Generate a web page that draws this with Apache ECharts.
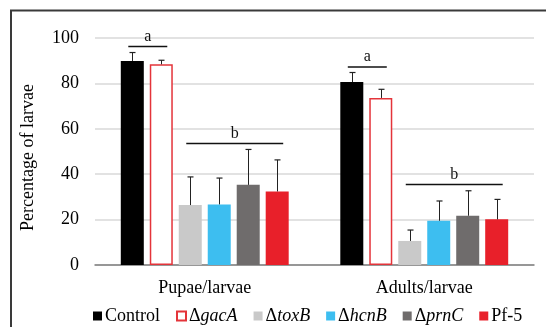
<!DOCTYPE html>
<html>
<head>
<meta charset="utf-8">
<script src="https://cdn.jsdelivr.net/npm/echarts@6/dist/echarts.min.js"></script>
<style>
  html, body { margin: 0; padding: 0; background: #fff; }
  #chart { width: 546px; height: 327px; }
</style>
</head>
<body>
<div id="chart"></div>
<script>
// Stage ratios (%) for each treatment, mean and standard error
const categories = ['Pupae/larvae', 'Adults/larvae'];
const seriesNames = ['Control', 'ΔgacA', 'ΔtoxB', 'ΔhcnB', 'ΔprnC', 'Pf-5'];

const controlMean = [89.9, 80.6];
const controlErr  = [3.7, 4.2];
const gacAMean    = [88.4, 73.6];
const gacAErr     = [1.8, 3.8];
const toxBMean    = [26.4, 10.6];
const toxBErr     = [12.4, 4.8];
const hcnBMean    = [26.7, 19.5];
const hcnBErr     = [11.6, 8.7];
const prnCMean    = [35.3, 21.7];
const prnCErr     = [15.6, 11.0];
const pf5Mean     = [32.4, 20.1];
const pf5Err      = [13.9, 8.8];

// Significance groups: letter, category, height of bracket, first and last bar covered
const sigLetters  = ['a', 'b', 'a', 'b'];
const sigCategory = [0, 0, 1, 1];
const sigLevel    = [96.3, 53.5, 87.2, 35.5];
const sigFirstBar = [0, 2, 0, 2];
const sigLastBar  = [1, 5, 1, 5];

const yTicks = [0, 20, 40, 60, 80, 100];

const means = [controlMean, gacAMean, toxBMean, hcnBMean, prnCMean, pf5Mean];
const errs  = [controlErr, gacAErr, toxBErr, hcnBErr, prnCErr, pf5Err];

const SERIF = '"Liberation Serif", "Times New Roman", serif';
const BAR_W = 23;
const BAR_GAP = 0.26;
const CAP = 3;

const barStyles = [
  { color: '#000000' },
  { color: '#ffffff', borderColor: '#e4343a', borderWidth: 1.5 },
  { color: '#c9c9c9' },
  { color: '#3dbef0' },
  { color: '#6f6c6c' },
  { color: '#e8202a' }
];

function barOffset(i) {
  return (i - (seriesNames.length - 1) / 2) * BAR_W * (1 + BAR_GAP);
}

const errData = [];
means.forEach((m, bi) => {
  m.forEach((v, ci) => errData.push([ci, v, errs[bi][ci], bi]));
});

const sigData = sigLevel.map((lv, k) => [sigCategory[k], lv, sigFirstBar[k], sigLastBar[k]]);

const barSeries = seriesNames.map((name, i) => ({
  name: name,
  type: 'bar',
  data: means[i],
  barWidth: BAR_W,
  barGap: (BAR_GAP * 100) + '%',
  itemStyle: barStyles[i],
  z: 2
}));

const chart = echarts.init(document.getElementById('chart'), null, { renderer: 'canvas' });

chart.setOption({
  backgroundColor: '#ffffff',
  animation: false,
  graphic: [{
    type: 'rect',
    silent: true,
    z: 0,
    shape: { x: 11, y: 10.5, width: 580, height: 360 },
    style: { fill: 'none', stroke: '#3a3a3a', lineWidth: 2 }
  }],
  grid: { left: 95, right: 12, top: 38, bottom: 62 },
  legend: {
    data: seriesNames,
    left: 88,
    top: 302,
    icon: 'rect',
    itemWidth: 9,
    itemHeight: 9,
    itemGap: 16,
    formatter: function (name) {
      if (name.charAt(0) === 'Δ') return '{u|Δ}{i|' + name.slice(1) + '}';
      return '{u|' + name + '}';
    },
    textStyle: {
      padding: [0, 0, 0, -2],
      rich: {
        u: { fontFamily: SERIF, fontSize: 18, color: '#000' },
        i: { fontFamily: SERIF, fontSize: 18, color: '#000', fontStyle: 'italic' }
      }
    }
  },
  xAxis: {
    type: 'category',
    data: categories,
    axisTick: { show: false },
    axisLine: { lineStyle: { color: '#7f7f7f', width: 1.5 } },
    axisLabel: { fontFamily: SERIF, fontSize: 18, color: '#000', margin: 14 }
  },
  yAxis: {
    type: 'value',
    min: yTicks[0],
    max: yTicks[yTicks.length - 1],
    interval: yTicks[1] - yTicks[0],
    name: 'Percentage of larvae',
    nameLocation: 'middle',
    nameGap: 58,
    nameRotate: 90,
    nameTextStyle: { fontFamily: SERIF, fontSize: 18, color: '#000', padding: [0, 12, 0, 0] },
    axisLine: { show: false },
    axisTick: { show: false },
    axisLabel: { fontFamily: SERIF, fontSize: 18, color: '#000', margin: 16 },
    splitLine: { lineStyle: { color: '#d9d9d9', width: 1.5 } }
  },
  series: barSeries.concat([
    {
      name: 'error',
      type: 'custom',
      data: errData,
      z: 3,
      silent: true,
      renderItem: function (params, api) {
        const cat = api.value(0), mean = api.value(1), err = api.value(2), bi = api.value(3);
        const base = api.coord([cat, mean]);
        const top = api.coord([cat, mean + err]);
        const x = Math.round(base[0] + barOffset(bi)) + 0.5;
        return {
          type: 'group',
          children: [
            { type: 'line', shape: { x1: x, y1: base[1], x2: x, y2: top[1] }, style: { stroke: '#222', lineWidth: 1 } },
            { type: 'line', shape: { x1: x - CAP, y1: top[1], x2: x + CAP, y2: top[1] }, style: { stroke: '#222', lineWidth: 1.2 } }
          ]
        };
      }
    },
    {
      name: 'significance',
      type: 'custom',
      data: sigData,
      z: 3,
      silent: true,
      renderItem: function (params, api) {
        const cat = api.value(0), lv = api.value(1), b0 = api.value(2), b1 = api.value(3);
        const p = api.coord([cat, lv]);
        const x1 = p[0] + barOffset(b0) - 4;
        const x2 = p[0] + barOffset(b1) + 6;
        return {
          type: 'group',
          children: [
            { type: 'line', shape: { x1: x1, y1: p[1], x2: x2, y2: p[1] }, style: { stroke: '#111', lineWidth: 1.5 } },
            {
              type: 'text',
              style: {
                text: sigLetters[params.dataIndex],
                x: (x1 + x2) / 2,
                y: p[1] - 10,
                align: 'center',
                verticalAlign: 'middle',
                fontFamily: SERIF,
                fontSize: 16,
                fill: '#111'
              }
            }
          ]
        };
      }
    }
  ])
});
</script>
</body>
</html>
